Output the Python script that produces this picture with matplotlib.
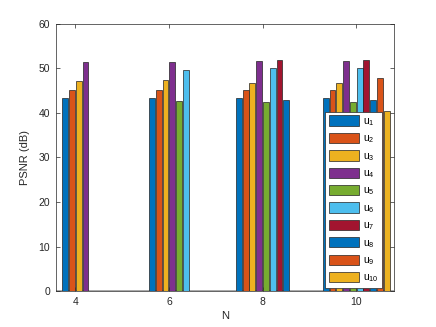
import matplotlib
matplotlib.use("Agg")
import matplotlib.pyplot as plt
import numpy as np

N = [4, 6, 8, 10]
labels = [r'$\mathregular{u_{%d}}$' % i for i in range(1, 11)]
# PSNR (dB) per user for each N (None = not present)
u1 = [43.35, 43.35, 43.35, 43.35]
u2 = [45.15, 45.15, 45.2, 45.15]
u3 = [47.2, 47.4, 46.65, 46.65]
u4 = [51.45, 51.4, 51.7, 51.65]
u5 = [None, 42.6, 42.45, 42.45]
u6 = [None, 49.7, 50.1, 50.1]
u7 = [None, None, 51.8, 51.8]
u8 = [None, None, 43.0, 43.0]
u9 = [None, None, None, 47.85]
u10 = [None, None, None, 40.5]
series = [u1, u2, u3, u4, u5, u6, u7, u8, u9, u10]
colors = ['#0072BD', '#D95319', '#EDB120', '#7E2F8E', '#77AC30',
          '#4DBEEE', '#A2142F', '#0072BD', '#D95319', '#EDB120']

plt.rcParams['font.family'] = ['Liberation Sans', 'DejaVu Sans']
fig = plt.figure(figsize=(4.36, 3.27), dpi=100)
ax = fig.add_axes([0.128, 0.110, 0.776, 0.817])

slot = 0.145
width = 0.125
handles = [None] * 10
for gi, n in enumerate(N):
    k = sum(1 for s in series if s[gi] is not None)
    for j, s in enumerate(series):
        v = s[gi]
        if v is None:
            continue
        x = n + (j - (k - 1) / 2) * slot
        b = ax.bar(x, v, width=width, color=colors[j], edgecolor='#222222',
                   linewidth=0.5, zorder=3)
        handles[j] = b

ax.axhline(0, color='#999999', lw=1.2, zorder=2)
ax.set_xlim(3.583, 10.81)
ax.set_ylim(0, 60)
ax.set_xticks(N)
ax.set_yticks(range(0, 61, 10))
ax.tick_params(direction='in', length=3, width=0.5, labelsize=7.5,
               colors='#262626', top=True, right=True, labeltop=False, labelright=False, pad=4)
for sp in ax.spines.values():
    sp.set_color('#262626')
    sp.set_linewidth(0.5)
ax.set_xlabel('N', fontsize=8, color='#262626', labelpad=3)
ax.set_ylabel('PSNR (dB)', fontsize=8, color='#262626', labelpad=6)

leg = ax.legend(handles, labels, loc='lower left', bbox_to_anchor=(0.796, 0.011),
                fontsize=7.5, handlelength=2.9, handleheight=1.15, labelspacing=0.47,
                handletextpad=0.4, borderpad=0.35, borderaxespad=0, fancybox=False,
                edgecolor='#262626', framealpha=1)
leg.get_frame().set_linewidth(0.5)
leg.set_zorder(5)

fig.savefig('out.png', dpi=100)
